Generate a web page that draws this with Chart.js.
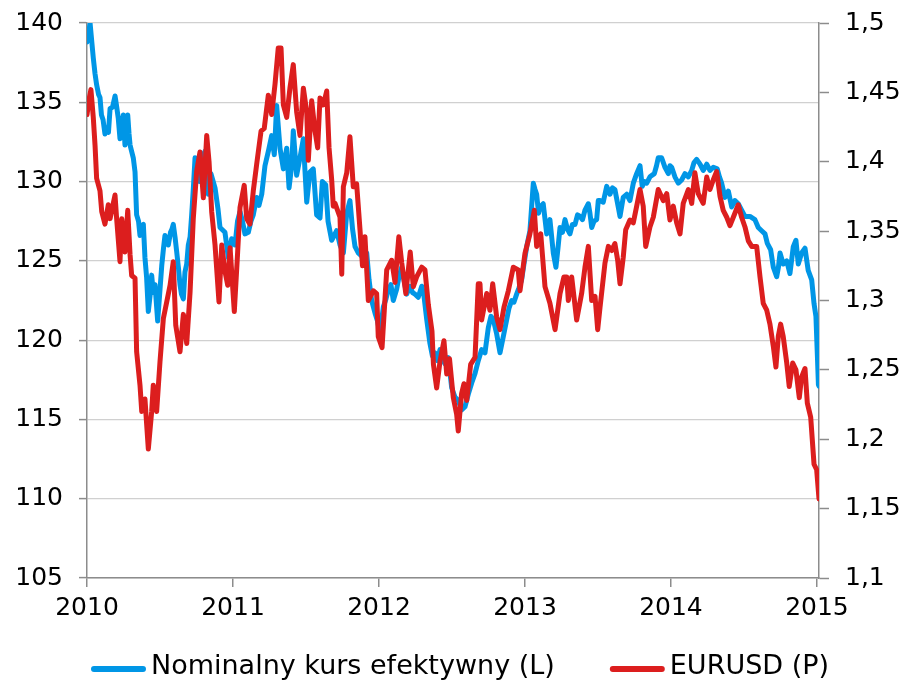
<!DOCTYPE html>
<html>
<head>
<meta charset="utf-8">
<script src="https://cdn.jsdelivr.net/npm/chart.js@4.4.1/dist/chart.umd.min.js"></script>
<style>
  html, body { margin: 0; padding: 0; background: #ffffff; }
  #wrap { width: 910px; height: 683px; }
</style>
</head>
<body>
<div id="wrap"><canvas id="c" width="910" height="683"></canvas></div>
<script>
// ---- Data ----
const seriesLabels = ['Nominalny kurs efektywny (L)', 'EURUSD (P)'];
const yearTicks = [2010, 2011, 2012, 2013, 2014, 2015];

// Nominal effective exchange rate (left axis): time as year fraction, values
const nkeX = [
  2010.000, 2010.010, 2010.021, 2010.031, 2010.043, 2010.055, 2010.066, 2010.079, 2010.089, 2010.099,
  2010.110, 2010.123, 2010.137, 2010.147, 2010.158, 2010.175, 2010.192, 2010.202, 2010.214, 2010.226,
  2010.236, 2010.249, 2010.260, 2010.271, 2010.279, 2010.288, 2010.295, 2010.317, 2010.329, 2010.340,
  2010.353, 2010.363, 2010.373, 2010.386, 2010.397, 2010.408, 2010.420, 2010.432, 2010.443, 2010.454,
  2010.466, 2010.484, 2010.497, 2010.512, 2010.524, 2010.534, 2010.546, 2010.557, 2010.572, 2010.582,
  2010.591, 2010.603, 2010.614, 2010.627, 2010.637, 2010.647, 2010.660, 2010.671, 2010.683, 2010.694,
  2010.706, 2010.717, 2010.728, 2010.740, 2010.751, 2010.762, 2010.774, 2010.784, 2010.797, 2010.808,
  2010.820, 2010.831, 2010.849, 2010.877, 2010.897, 2010.911, 2010.945, 2010.968, 2010.991, 2011.014,
  2011.031, 2011.048, 2011.065, 2011.082, 2011.105, 2011.123, 2011.139, 2011.162, 2011.178, 2011.197,
  2011.219, 2011.242, 2011.265, 2011.283, 2011.299, 2011.322, 2011.345, 2011.368, 2011.384, 2011.402,
  2011.413, 2011.436, 2011.459, 2011.482, 2011.493, 2011.505, 2011.527, 2011.550, 2011.573, 2011.596,
  2011.612, 2011.635, 2011.651, 2011.676, 2011.710, 2011.733, 2011.756, 2011.779, 2011.801, 2011.819,
  2011.836, 2011.858, 2011.893, 2011.916, 2011.932, 2011.950, 2011.973, 2011.990, 2012.007, 2012.030,
  2012.048, 2012.064, 2012.082, 2012.098, 2012.121, 2012.137, 2012.156, 2012.171, 2012.190, 2012.212,
  2012.230, 2012.247, 2012.269, 2012.293, 2012.308, 2012.327, 2012.349, 2012.366, 2012.384, 2012.401,
  2012.418, 2012.435, 2012.452, 2012.475, 2012.498, 2012.521, 2012.543, 2012.566, 2012.589, 2012.612,
  2012.635, 2012.658, 2012.680, 2012.703, 2012.726, 2012.749, 2012.767, 2012.783, 2012.806, 2012.829,
  2012.851, 2012.875, 2012.890, 2012.909, 2012.925, 2012.943, 2012.959, 2012.977, 2012.993, 2013.012,
  2013.034, 2013.057, 2013.069, 2013.080, 2013.093, 2013.103, 2013.125, 2013.149, 2013.171, 2013.194,
  2013.212, 2013.226, 2013.240, 2013.257, 2013.274, 2013.291, 2013.308, 2013.325, 2013.343, 2013.360,
  2013.377, 2013.394, 2013.411, 2013.434, 2013.445, 2013.457, 2013.473, 2013.491, 2013.502, 2013.514,
  2013.536, 2013.560, 2013.582, 2013.599, 2013.616, 2013.639, 2013.651, 2013.673, 2013.697, 2013.719,
  2013.742, 2013.765, 2013.788, 2013.803, 2013.819, 2013.834, 2013.856, 2013.886, 2013.901, 2013.913,
  2013.936, 2013.959, 2013.982, 2013.993, 2014.005, 2014.027, 2014.050, 2014.073, 2014.096, 2014.119,
  2014.142, 2014.158, 2014.176, 2014.199, 2014.221, 2014.245, 2014.267, 2014.290, 2014.317, 2014.332,
  2014.347, 2014.370, 2014.393, 2014.416, 2014.438, 2014.461, 2014.484, 2014.507, 2014.541, 2014.575,
  2014.598, 2014.621, 2014.644, 2014.660, 2014.683, 2014.701, 2014.724, 2014.736, 2014.747, 2014.769,
  2014.793, 2014.815, 2014.838, 2014.856, 2014.872, 2014.895, 2014.918, 2014.940, 2014.964, 2014.980,
  2014.993, 2015.003, 2015.010, 2015.014
];
const nkeY = [
  138.8, 139.3, 140.0, 139.0, 137.8, 136.8, 136.1, 135.5, 135.3, 134.2,
  133.9, 133.0, 133.4, 133.1, 134.6, 134.7, 135.4, 134.8, 134.0, 132.7,
  133.5, 134.2, 132.3, 133.6, 134.2, 133.0, 132.3, 131.5, 130.6, 127.9,
  127.5, 126.6, 127.2, 127.3, 125.2, 124.0, 121.8, 122.8, 124.1, 123.0,
  123.5, 121.2, 122.8, 124.7, 125.8, 126.6, 126.2, 126.0, 126.8, 127.0,
  127.3, 126.5, 125.6, 124.5, 123.5, 122.9, 122.6, 124.3, 124.8, 126.0,
  126.5, 127.9, 129.5, 131.5, 130.5, 130.8, 130.0, 131.2, 131.7, 131.9,
  130.2, 129.2, 130.5, 129.6, 128.3, 127.1, 126.8, 125.2, 126.4, 126.0,
  127.5, 128.1, 127.5, 126.7, 126.8, 127.5, 127.9, 129.0, 128.5, 129.2,
  131.0, 131.9, 132.9, 131.7, 134.8, 132.1, 130.8, 132.1, 129.6, 131.0,
  133.2, 130.4, 131.5, 132.7, 130.7, 128.7, 130.6, 130.8, 127.9, 127.7,
  130.0, 129.8, 127.5, 126.3, 126.9, 126.0, 125.5, 128.0, 128.8, 127.0,
  125.9, 125.5, 125.2, 125.5, 123.8, 122.5, 121.7, 121.2, 120.4, 122.1,
  122.6, 123.2, 123.5, 122.5, 123.2, 124.0, 124.6, 123.8, 122.9, 123.4,
  123.0, 122.9, 122.7, 123.4, 122.8, 121.3, 119.8, 119.0, 119.2, 118.7,
  119.4, 118.8, 118.5, 118.9, 117.0, 116.4, 116.2, 115.6, 115.8, 116.6,
  117.3, 117.9, 118.7, 119.4, 119.2, 120.8, 121.5, 121.3, 120.4, 119.2,
  120.2, 121.3, 122.0, 122.5, 122.4, 122.9, 123.3, 123.8, 124.8, 125.9,
  126.9, 129.9, 129.5, 129.2, 128.0, 128.4, 128.6, 126.7, 127.6, 125.5,
  124.6, 125.8, 127.1, 126.8, 127.6, 127.0, 126.7, 127.3, 127.3, 127.9,
  127.8, 127.6, 128.2, 128.6, 128.0, 127.1, 127.5, 127.6, 128.8, 128.8,
  128.7, 129.7, 129.2, 129.6, 129.5, 128.4, 127.8, 129.0, 129.2, 128.8,
  129.9, 130.5, 131.0, 129.7, 130.0, 129.9, 130.3, 130.5, 131.0, 131.5,
  131.5, 130.9, 130.5, 131.0, 130.9, 130.3, 129.9, 130.1, 130.5, 130.3,
  130.7, 131.2, 131.4, 131.1, 130.7, 131.1, 130.7, 130.9, 130.8, 130.3,
  129.9, 129.0, 129.4, 128.4, 128.8, 128.6, 128.2, 127.8, 127.8, 127.6,
  127.1, 126.9, 126.7, 126.1, 125.7, 124.6, 124.0, 124.6, 125.5, 124.8,
  125.0, 124.2, 125.9, 126.3, 124.8, 125.5, 125.8, 124.4, 123.8, 122.3,
  121.5, 119.0, 117.2, 117.1
];

// EURUSD (right axis): time as year fraction, values
const eurX = [
  2010.000, 2010.014, 2010.027, 2010.043, 2010.055, 2010.066, 2010.089, 2010.101, 2010.123, 2010.146,
  2010.158, 2010.192, 2010.203, 2010.226, 2010.238, 2010.260, 2010.279, 2010.295, 2010.306, 2010.329,
  2010.340, 2010.363, 2010.375, 2010.397, 2010.420, 2010.443, 2010.454, 2010.477, 2010.500, 2010.523,
  2010.546, 2010.569, 2010.591, 2010.608, 2010.637, 2010.660, 2010.683, 2010.706, 2010.728, 2010.751,
  2010.774, 2010.797, 2010.820, 2010.836, 2010.854, 2010.877, 2010.904, 2010.923, 2010.945, 2010.964,
  2010.980, 2011.009, 2011.032, 2011.048, 2011.077, 2011.094, 2011.116, 2011.139, 2011.162, 2011.192,
  2011.214, 2011.242, 2011.265, 2011.288, 2011.310, 2011.329, 2011.345, 2011.368, 2011.390, 2011.413,
  2011.436, 2011.459, 2011.482, 2011.505, 2011.516, 2011.539, 2011.562, 2011.580, 2011.596, 2011.619,
  2011.642, 2011.658, 2011.676, 2011.687, 2011.699, 2011.733, 2011.745, 2011.756, 2011.779, 2011.801,
  2011.824, 2011.847, 2011.870, 2011.887, 2011.904, 2011.927, 2011.961, 2011.984, 2011.995, 2012.021,
  2012.053, 2012.087, 2012.110, 2012.136, 2012.156, 2012.184, 2012.214, 2012.235, 2012.258, 2012.293,
  2012.315, 2012.338, 2012.363, 2012.373, 2012.395, 2012.418, 2012.445, 2012.464, 2012.483, 2012.509,
  2012.532, 2012.543, 2012.566, 2012.582, 2012.601, 2012.628, 2012.658, 2012.680, 2012.692, 2012.703,
  2012.738, 2012.760, 2012.779, 2012.806, 2012.829, 2012.856, 2012.886, 2012.920, 2012.954, 2012.966,
  2013.000, 2013.034, 2013.064, 2013.080, 2013.108, 2013.137, 2013.171, 2013.206, 2013.240, 2013.267,
  2013.286, 2013.297, 2013.320, 2013.354, 2013.388, 2013.411, 2013.434, 2013.457, 2013.480, 2013.498,
  2013.514, 2013.548, 2013.571, 2013.594, 2013.616, 2013.635, 2013.651, 2013.673, 2013.690, 2013.719,
  2013.742, 2013.765, 2013.788, 2013.810, 2013.827, 2013.856, 2013.879, 2013.913, 2013.947, 2013.971,
  2013.993, 2014.016, 2014.039, 2014.062, 2014.084, 2014.119, 2014.142, 2014.164, 2014.187, 2014.221,
  2014.245, 2014.267, 2014.290, 2014.313, 2014.336, 2014.358, 2014.382, 2014.404, 2014.427, 2014.461,
  2014.484, 2014.507, 2014.530, 2014.553, 2014.587, 2014.610, 2014.632, 2014.656, 2014.678, 2014.701,
  2014.719, 2014.735, 2014.751, 2014.769, 2014.793, 2014.810, 2014.834, 2014.856, 2014.879, 2014.895,
  2014.918, 2014.934, 2014.957, 2014.980, 2014.998, 2015.014
];
const eurY = [
  1.434, 1.445, 1.452, 1.432, 1.412, 1.388, 1.379, 1.364, 1.355, 1.369,
  1.359, 1.376, 1.359, 1.328, 1.359, 1.335, 1.365, 1.333, 1.318, 1.316,
  1.263, 1.239, 1.220, 1.229, 1.193, 1.220, 1.239, 1.220, 1.256, 1.287,
  1.299, 1.311, 1.328, 1.282, 1.263, 1.290, 1.269, 1.306, 1.359, 1.393,
  1.407, 1.374, 1.419, 1.400, 1.364, 1.340, 1.299, 1.340, 1.321, 1.311,
  1.338, 1.292, 1.335, 1.367, 1.383, 1.359, 1.355, 1.379, 1.398, 1.422,
  1.424, 1.448, 1.434, 1.456, 1.482, 1.482, 1.441, 1.432, 1.453, 1.470,
  1.436, 1.419, 1.453, 1.436, 1.401, 1.444, 1.422, 1.410, 1.446, 1.441,
  1.451, 1.410, 1.387, 1.368, 1.370, 1.360, 1.319, 1.382, 1.392, 1.418,
  1.382, 1.384, 1.351, 1.325, 1.346, 1.300, 1.307, 1.305, 1.274, 1.266,
  1.322, 1.329, 1.313, 1.346, 1.327, 1.305, 1.335, 1.310, 1.317, 1.324,
  1.322, 1.297, 1.278, 1.254, 1.237, 1.256, 1.271, 1.247, 1.258, 1.230,
  1.218, 1.206, 1.233, 1.240, 1.228, 1.254, 1.259, 1.312, 1.312, 1.286,
  1.305, 1.293, 1.312, 1.288, 1.279, 1.295, 1.307, 1.324, 1.322, 1.307,
  1.334, 1.348, 1.365, 1.339, 1.348, 1.310, 1.298, 1.279, 1.305, 1.317,
  1.317, 1.300, 1.317, 1.286, 1.305, 1.324, 1.339, 1.300, 1.303, 1.279,
  1.295, 1.327, 1.339, 1.336, 1.341, 1.329, 1.312, 1.331, 1.351, 1.358,
  1.356, 1.368, 1.380, 1.368, 1.339, 1.353, 1.360, 1.380, 1.372, 1.377,
  1.358, 1.368, 1.356, 1.348, 1.370, 1.380, 1.370, 1.392, 1.377, 1.370,
  1.389, 1.380, 1.387, 1.393, 1.375, 1.365, 1.360, 1.354, 1.360, 1.369,
  1.360, 1.353, 1.343, 1.339, 1.339, 1.317, 1.298, 1.293, 1.283, 1.267,
  1.252, 1.274, 1.283, 1.274, 1.255, 1.238, 1.255, 1.250, 1.230, 1.245,
  1.251, 1.226, 1.216, 1.182, 1.178, 1.157
];

// Axis ranges / tick steps
const leftMin = 105, leftMax = 140, leftStep = 5;
const rightMin = 1.1, rightMax = 1.5, rightStep = 0.05;
const xMin = 2010, xMax = 2015.014;

// ---- Build chart ----
const toPoints = (xs, ys) => xs.map((x, i) => ({ x: x, y: ys[i] }));

const BLUE = '#0096e6';
const RED = '#dc1e1e';
const AXIS = '#8c8c8c';
const GRID = '#d0d0d0';
const FONT = "'DejaVu Sans', Verdana, sans-serif";

Chart.defaults.font.family = FONT;
Chart.defaults.font.size = 25;
Chart.defaults.color = '#000000';

const W = 910, H = 683;
const padL = 8, padR = 8;
const areaLeft = 87, areaRight = 819;

const bgPlugin = {
  id: 'bg',
  beforeDraw(chart) {
    const c = chart.ctx;
    c.save();
    c.fillStyle = '#ffffff';
    c.fillRect(0, 0, chart.width, chart.height);
    c.restore();
  }
};

// Legend drawn from the chart's own datasets (line sample + label), blue item first
const legendPlugin = {
  id: 'lineLegend',
  afterDraw(chart) {
    const c = chart.ctx;
    const items = chart.data.datasets.slice().reverse();
    const sampleW = 55, gap = 5, spacing = 55, centerY = 667, centerX = 460;
    c.save();
    c.font = '27px ' + FONT;
    c.textBaseline = 'middle';
    c.textAlign = 'left';
    const widths = items.map(d => c.measureText(d.label).width);
    let total = 0;
    widths.forEach((w, i) => { total += sampleW + gap + w + (i ? spacing : 0); });
    let x = centerX - total / 2;
    items.forEach((d, i) => {
      c.strokeStyle = d.borderColor;
      c.lineWidth = 6;
      c.lineCap = 'round';
      c.beginPath();
      c.moveTo(x + 3, centerY + 2);
      c.lineTo(x + sampleW - 3, centerY + 2);
      c.stroke();
      c.fillStyle = '#000000';
      c.fillText(d.label, x + sampleW + gap, centerY);
      x += sampleW + gap + widths[i] + spacing;
    });
    c.restore();
  }
};

const zeroPad = (scale) => {
  scale.paddingTop = 0; scale.paddingBottom = 0;
  scale.paddingLeft = 0; scale.paddingRight = 0;
};

new Chart(document.getElementById('c'), {
  type: 'line',
  data: {
    datasets: [
      {
        label: seriesLabels[1],
        data: toPoints(eurX, eurY),
        yAxisID: 'yR',
        borderColor: RED,
        backgroundColor: RED,
        borderWidth: 5,
        pointRadius: 0,
        tension: 0,
        borderJoinStyle: 'round',
        borderCapStyle: 'round',
        fill: false
      },
      {
        label: seriesLabels[0],
        data: toPoints(nkeX, nkeY),
        yAxisID: 'yL',
        borderColor: BLUE,
        backgroundColor: BLUE,
        borderWidth: 5,
        pointRadius: 0,
        tension: 0,
        borderJoinStyle: 'round',
        borderCapStyle: 'round',
        fill: false
      }
    ]
  },
  options: {
    responsive: false,
    animation: false,
    devicePixelRatio: 1,
    layout: { padding: { left: padL, right: padR, top: 23, bottom: 65 } },
    plugins: {
      tooltip: { enabled: false },
      legend: { display: false }
    },
    scales: {
      x: {
        type: 'linear',
        position: 'bottom',
        min: xMin,
        max: xMax,
        border: { color: AXIS, width: 1.5 },
        grid: { drawOnChartArea: false, drawTicks: true, tickLength: 9, tickColor: AXIS, lineWidth: 1.5 },
        afterBuildTicks(scale) { scale.ticks = yearTicks.map(v => ({ value: v })); },
        ticks: {
          padding: 6,
          maxRotation: 0,
          autoSkip: false,
          callback: (v) => String(v)
        },
        afterFit(scale) { scale.height = 40; zeroPad(scale); }
      },
      yL: {
        type: 'linear',
        position: 'left',
        min: leftMin,
        max: leftMax,
        border: { color: AXIS, width: 1.5 },
        grid: { color: GRID, lineWidth: 1.2, drawTicks: true, tickLength: 8, tickColor: AXIS, tickWidth: 1.5 },
        ticks: {
          stepSize: leftStep,
          padding: 16,
          callback: (v) => String(v)
        },
        afterFit(scale) { scale.width = areaLeft - padL; zeroPad(scale); }
      },
      yR: {
        type: 'linear',
        position: 'right',
        min: rightMin,
        max: rightMax,
        border: { color: AXIS, width: 1.5 },
        grid: { drawOnChartArea: false, drawTicks: true, tickLength: 10, tickColor: AXIS, tickWidth: 1.5 },
        ticks: {
          stepSize: rightStep,
          padding: 16,
          callback: (v) => String(Number(v.toFixed(2))).replace('.', ',')
        },
        afterFit(scale) { scale.width = W - padR - areaRight; zeroPad(scale); }
      }
    }
  },
  plugins: [bgPlugin, legendPlugin]
});
</script>
</body>
</html>
